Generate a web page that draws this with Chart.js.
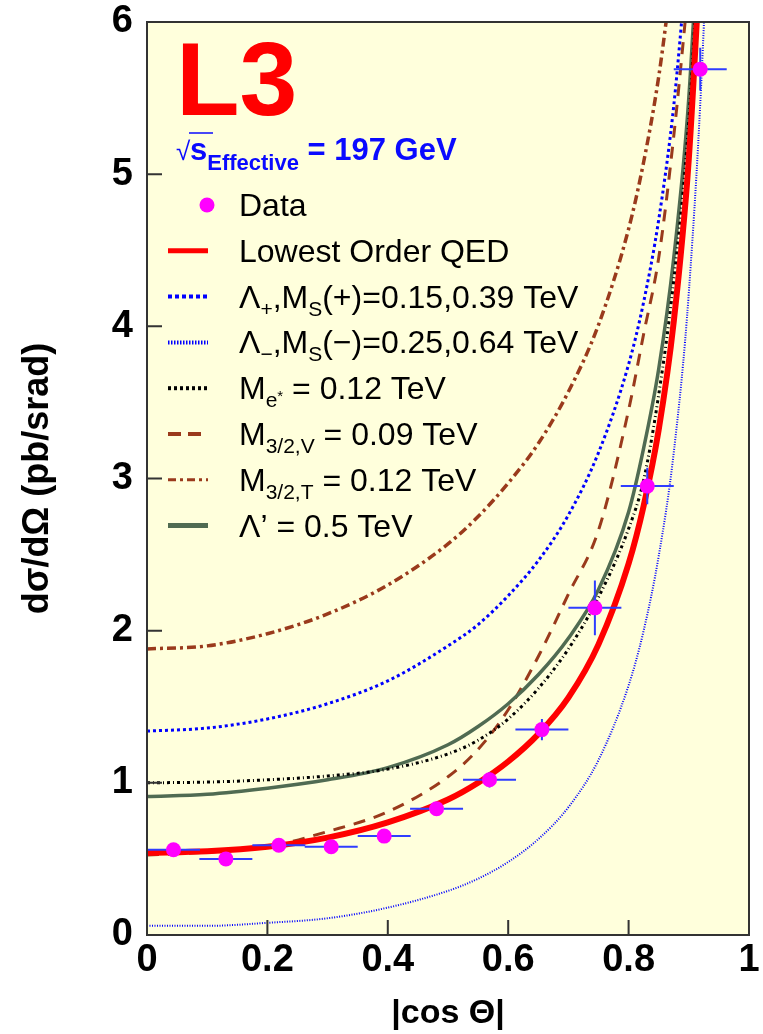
<!DOCTYPE html>
<html lang="en">
<head>
<meta charset="UTF-8">
<title>L3 - e+e- to gamma gamma, d sigma / d Omega</title>
<script src="https://cdn.jsdelivr.net/npm/chart.js"></script>
<style>
  html, body { margin: 0; padding: 0; background: #fff; }
  #chart { display: block; }
</style>
</head>
<body>
<canvas id="chart" width="763" height="1034"></canvas>
<script>
const cosGrid     = [0, 0.1, 0.2, 0.3, 0.4, 0.5, 0.55, 0.6, 0.65, 0.7, 0.75, 0.8, 0.825, 0.85, 0.875, 0.9, 0.925, 0.94];

// theory curves, d sigma / d Omega in pb/srad (null = already off the top)
const qedLO       = [0.54, 0.55, 0.58, 0.64, 0.74, 0.89, 1.00, 1.14, 1.32, 1.56, 1.91, 2.44, 2.82, 3.32, 4.03, 5.10, 6.88, null];
const lambdaPlus  = [1.34, 1.36, 1.42, 1.52, 1.67, 1.90, 2.04, 2.23, 2.46, 2.76, 3.17, 3.75, 4.16, 4.70, 5.45, 6.55, null, null];
const lambdaMinus = [0.06, 0.06, 0.08, 0.11, 0.18, 0.29, 0.37, 0.48, 0.63, 0.84, 1.15, 1.64, 2.00, 2.49, 3.17, 4.22, 5.98, 7.75];
const eStar       = [1.00, 1.005, 1.02, 1.045, 1.09, 1.19, 1.28, 1.42, 1.62, 1.88, 2.22, 2.67, 2.99, 3.55, 4.30, 5.35, 7.10, null];
const gravV       = [0.525, 0.545, 0.58, 0.68, 0.81, 1.04, 1.22, 1.48, 1.83, 2.24, 2.66, 3.45, 3.95, 4.45, 5.25, 6.25, null, null];
const gravT       = [1.88, 1.90, 1.98, 2.11, 2.30, 2.57, 2.75, 2.97, 3.23, 3.57, 4.01, 4.64, 5.08, 5.64, 6.40, null, null, null];
const lambdaPrime = [0.91, 0.925, 0.965, 1.02, 1.10, 1.25, 1.37, 1.52, 1.71, 1.95, 2.27, 2.78, 3.20, 3.72, 4.45, 5.50, 7.30, null];

// measured points
const binCentre = [0.044, 0.131, 0.219, 0.306, 0.394, 0.481, 0.569, 0.656, 0.744, 0.831, 0.919];
const binHalf   = 0.044;
const dataXsec  = [0.56, 0.50, 0.59, 0.58, 0.65, 0.83, 1.02, 1.35, 2.15, 2.95, 5.69];
const dataErr   = [0.03, 0.03, 0.03, 0.03, 0.04, 0.04, 0.05, 0.07, 0.18, 0.12, 0.14];

const xTicks = [0, 0.2, 0.4, 0.6, 0.8, 1];
const yTicks = [0, 1, 2, 3, 4, 5, 6];

const FONT = "'Liberation Sans', Arial, Helvetica, sans-serif";
const BROWN = '#9a3a1c';
const GREEN = '#506b52';

function curve(label, ys, color, width, dash, order) {
  return {
    label: label,
    data: cosGrid.map((c, i) => ({ x: c, y: ys[i] })),
    borderColor: color,
    borderWidth: width,
    borderDash: dash,
    pointRadius: 0,
    cubicInterpolationMode: 'monotone',
    fill: false,
    order: order
  };
}

// draw a row of text pieces: [text, size, weight, dy]
function richText(ctx, x, y, parts, color) {
  ctx.fillStyle = color;
  ctx.textAlign = 'left';
  ctx.textBaseline = 'alphabetic';
  for (const [t, size, weight, dy] of parts) {
    ctx.font = weight + ' ' + size + 'px ' + FONT;
    ctx.fillText(t, x, y + dy);
    x += ctx.measureText(t).width;
  }
  return x;
}

const N = 32, S = 21, SD = 8;   // legend text size, subscript size, subscript drop
const legendRows = [
  { kind: 'point', parts: [['Data', N, 'normal', 0]] },
  { kind: 'line', color: '#ff0000', width: 5, dash: [], parts: [['Lowest Order QED', N, 'normal', 0]] },
  { kind: 'line', color: '#0000ff', width: 4, dash: [4, 3],
    parts: [['Λ', N, 'normal', 0], ['+', S, 'normal', SD], [',M', N, 'normal', 0], ['S', S, 'normal', SD], ['(+)=0.15,0.39 TeV', N, 'normal', 0]] },
  { kind: 'line', color: '#0000ff', width: 4, dash: [1.5, 1.5],
    parts: [['Λ', N, 'normal', 0], ['−', S, 'normal', SD], [',M', N, 'normal', 0], ['S', S, 'normal', SD], ['(−)=0.25,0.64 TeV', N, 'normal', 0]] },
  { kind: 'line', color: '#000000', width: 4, dash: [3, 3],
    parts: [['M', N, 'normal', 0], ['e', S, 'normal', SD], ['*', 15, 'normal', 2], [' = 0.12 TeV', N, 'normal', 0]] },
  { kind: 'line', color: BROWN, width: 4, dash: [13, 7],
    parts: [['M', N, 'normal', 0], ['3/2,V', S, 'normal', SD], [' = 0.09 TeV', N, 'normal', 0]] },
  { kind: 'line', color: BROWN, width: 3, dash: [8, 4, 3, 4],
    parts: [['M', N, 'normal', 0], ['3/2,T', S, 'normal', SD], [' = 0.12 TeV', N, 'normal', 0]] },
  { kind: 'line', color: GREEN, width: 5, dash: [],
    parts: [['Λ’ = 0.5 TeV', N, 'normal', 0]] }
];

const decor = {
  id: 'decor',
  beforeDraw(chart) {
    const { ctx, chartArea: a } = chart;
    ctx.save();
    ctx.fillStyle = '#ffffff';
    ctx.fillRect(0, 0, chart.width, chart.height);
    ctx.fillStyle = '#ffffdc';
    ctx.fillRect(a.left, a.top, a.right - a.left, a.bottom - a.top);
    ctx.restore();
  },
  beforeDatasetDraw(chart, args) {
    if (chart.data.datasets[args.index].label !== 'Data') return;
    const { ctx } = chart;
    const xs = chart.scales.x, ys = chart.scales.y;
    ctx.save();
    ctx.strokeStyle = '#2f3dff';
    ctx.lineWidth = 2;
    binCentre.forEach((c, i) => {
      const px = xs.getPixelForValue(c), py = ys.getPixelForValue(dataXsec[i]);
      ctx.beginPath();
      ctx.moveTo(xs.getPixelForValue(c - binHalf), py);
      ctx.lineTo(xs.getPixelForValue(c + binHalf), py);
      ctx.moveTo(px, ys.getPixelForValue(dataXsec[i] - dataErr[i]));
      ctx.lineTo(px, ys.getPixelForValue(dataXsec[i] + dataErr[i]));
      ctx.stroke();
    });
    ctx.restore();
  },
  afterDatasetsDraw(chart) {
    const { ctx, chartArea: a } = chart;
    const xs = chart.scales.x, ys = chart.scales.y;
    ctx.save();
    ctx.strokeStyle = '#333';
    ctx.lineWidth = 2;
    // inward ticks, ROOT style
    ctx.beginPath();
    xTicks.slice(1, -1).forEach(v => {
      const px = xs.getPixelForValue(v);
      ctx.moveTo(px, a.bottom); ctx.lineTo(px, a.bottom - 15);
    });
    yTicks.slice(1, -1).forEach(v => {
      const py = ys.getPixelForValue(v);
      ctx.moveTo(a.left, py); ctx.lineTo(a.left + 15, py);
    });
    ctx.stroke();
    ctx.strokeRect(a.left, a.top, a.right - a.left, a.bottom - a.top);
    ctx.restore();
  },
  afterDraw(chart) {
    const { ctx, chartArea: a } = chart;
    const L = a.left, T = a.top;
    ctx.save();
    // experiment label
    richText(ctx, L + 29, T + 93, [['L3', 104, 'bold', 0]], '#ff0000');
    // centre of mass energy
    ctx.fillStyle = '#0a0aff';
    ctx.font = 'normal 26px ' + FONT;
    ctx.fillText('√', L + 29, T + 138);
    ctx.strokeStyle = '#0a0aff';
    ctx.lineWidth = 1.5;
    ctx.beginPath();
    ctx.moveTo(L + 42, T + 111); ctx.lineTo(L + 66, T + 111);
    ctx.stroke();
    richText(ctx, L + 43, T + 138, [['s', 31, 'bold', 0], ['Effective', 22, 'bold', 10], [' = 197 GeV', 31, 'bold', 0]], '#0a0aff');
    // legend
    legendRows.forEach((r, i) => {
      const cy = T + 183 + i * 45.8;
      if (r.kind === 'point') {
        ctx.fillStyle = '#ff00ff';
        ctx.beginPath();
        ctx.arc(L + 60, cy, 7.5, 0, 2 * Math.PI);
        ctx.fill();
      } else {
        ctx.strokeStyle = r.color;
        ctx.lineWidth = r.width;
        ctx.setLineDash(r.dash);
        ctx.beginPath();
        ctx.moveTo(L + 21, cy); ctx.lineTo(L + 61, cy);
        ctx.stroke();
        ctx.setLineDash([]);
      }
      richText(ctx, L + 92, cy + 11, r.parts, '#000');
    });
    ctx.restore();
  }
};

// keep Chart.js from growing the margins around the frame for label overhang
function noOverhang(s) {
  s.paddingTop = 0; s.paddingBottom = 0; s.paddingLeft = 0; s.paddingRight = 0;
}

new Chart(document.getElementById('chart'), {
  type: 'line',
  data: {
    datasets: [
      {
        label: 'Data',
        data: binCentre.map((c, i) => ({ x: c, y: dataXsec[i] })),
        showLine: false,
        pointRadius: 7.5,
        pointBackgroundColor: '#ff00ff',
        pointBorderWidth: 0,
        order: 0
      },
      curve('Lowest Order QED', qedLO, '#ff0000', 6, [], 1),
      curve('Me* = 0.12 TeV', eStar, '#000000', 3, [3, 3, 1, 3], 2),
      curve("Lambda' = 0.5 TeV", lambdaPrime, GREEN, 3.5, [], 3),
      curve('M3/2,V = 0.09 TeV', gravV, BROWN, 3, [12, 9], 4),
      curve('Lambda+', lambdaPlus, '#0000ff', 3, [3, 3], 5),
      curve('Lambda-', lambdaMinus, '#0000ff', 2, [1, 1.5], 6),
      curve('M3/2,T = 0.12 TeV', gravT, BROWN, 3.5, [9, 4, 3, 4], 7)
    ]
  },
  options: {
    responsive: false,
    animation: false,
    devicePixelRatio: 1,
    layout: { autoPadding: false, padding: { top: 22, right: 14, left: 0, bottom: 0 } },
    plugins: { legend: { display: false }, tooltip: { enabled: false } },
    scales: {
      x: {
        type: 'linear', min: 0, max: 1,
        afterBuildTicks: s => { s.ticks = xTicks.map(v => ({ value: v })); },
        afterFit: s => { s.height = 99; noOverhang(s); },
        grid: { display: false, drawTicks: false },
        border: { display: false },
        ticks: {
          color: '#000', padding: 3, maxRotation: 0, autoSkip: false,
          font: { family: FONT, size: 38, weight: 'bold' },
          callback: v => String(Math.round(v * 10) / 10)
        },
        title: {
          display: true, text: '|cos Θ|', color: '#000',
          font: { family: FONT, size: 34, weight: 'bold' },
          padding: { top: 6, bottom: 0 }
        }
      },
      y: {
        type: 'linear', min: 0, max: 6,
        afterBuildTicks: s => { s.ticks = yTicks.map(v => ({ value: v })); },
        afterFit: s => { s.width = 147; noOverhang(s); },
        grid: { display: false, drawTicks: false },
        border: { display: false },
        ticks: {
          color: '#000', padding: 14, autoSkip: false,
          font: { family: FONT, size: 38, weight: 'bold', lineHeight: 1 }
        },
        title: {
          display: true, text: 'dσ/dΩ (pb/srad)', color: '#000',
          font: { family: FONT, size: 36, weight: 'bold' },
          padding: { top: 16, bottom: 0 }
        }
      }
    }
  },
  plugins: [decor]
});
</script>
</body>
</html>
